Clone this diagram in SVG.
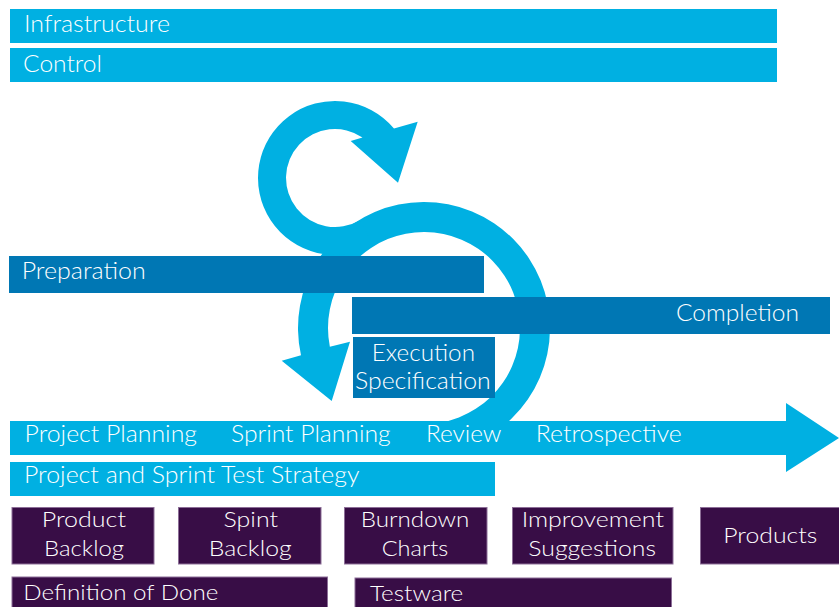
<svg xmlns="http://www.w3.org/2000/svg" width="839" height="607" viewBox="0 0 839 607">
<style>
.lb{fill:#00B0E2}
.db{fill:#0077B4}
.pp{fill:#380D46;stroke:#8C6E97;stroke-width:1}
text{font-family:Lato,"Open Sans","Noto Sans",sans-serif;font-weight:300;fill:#FFFFFF}
.t23{font-size:24px}
.t22{font-size:23px}
.t20{font-size:21px}
.t21{font-size:22px}
</style>
<rect width="839" height="607" fill="#FFFFFF"/>
<g id="connectors">
<path id="spiral-big" class="lb" d="M445.88 452.09 A126 126 0 1 0 300.99 355.27 L281.7 360.7 L331.7 401 L350 341.7 L329.86 346.81 A96 96 0 1 1 440.67 422.54 Z"/>
<path id="spiral-small" class="lb" d="M394 128.5 L417.7 121.7 L398 182.7 L350.7 141 L362.5 137.4 A49 49 0 1 0 359.5 220.44 L373.5 244.68 A77 77 0 1 1 394 128.5 Z"/>
</g>
<g id="infrastructure"><rect class="lb" x="10" y="9" width="767" height="34"/><text class="t23" x="24" y="32" textLength="146" lengthAdjust="spacingAndGlyphs">Infrastructure</text></g>
<g id="control"><rect class="lb" x="10" y="48" width="767" height="34"/><text class="t23" x="23" y="72" textLength="79" lengthAdjust="spacingAndGlyphs">Control</text></g>
<g id="preparation"><rect class="db" x="9" y="256" width="475" height="37"/><text class="t22" x="21.7" y="279.3" textLength="124" lengthAdjust="spacingAndGlyphs">Preparation</text></g>
<g id="completion"><rect class="db" x="352" y="297" width="478" height="37"/><text class="t22" x="676" y="321" textLength="123" lengthAdjust="spacingAndGlyphs">Completion</text></g>
<g id="execution"><rect class="db" x="353" y="337" width="142" height="61"/><text class="t22" x="371.7" y="361" textLength="103.3" lengthAdjust="spacingAndGlyphs">Execution</text><text class="t22" x="355" y="389" textLength="135.7" lengthAdjust="spacingAndGlyphs">Specification</text></g>
<g id="timeline"><polygon class="lb" points="10,421 786,421 786,403 839,438 786,472 786,455 10,455"/>
<text class="t22" x="24.6" y="441.7" textLength="172.4" lengthAdjust="spacingAndGlyphs">Project Planning</text>
<text class="t22" x="231" y="441.7" textLength="159.6" lengthAdjust="spacingAndGlyphs">Sprint Planning</text>
<text class="t22" x="426" y="441.7" textLength="75.5" lengthAdjust="spacingAndGlyphs">Review</text>
<text class="t22" x="535.8" y="441.7" textLength="146" lengthAdjust="spacingAndGlyphs">Retrospective</text></g>
<g id="test-strategy"><rect class="lb" x="10" y="462" width="485" height="34"/><text class="t22" x="24" y="483" textLength="335.5" lengthAdjust="spacingAndGlyphs">Project and Sprint Test Strategy</text></g>
<g id="product-backlog"><rect class="pp" x="12" y="507.5" width="142" height="56.5"/><text class="t20" x="41.7" y="526.7" textLength="84.3" lengthAdjust="spacingAndGlyphs">Product</text><text class="t20" x="44" y="555.7" textLength="80" lengthAdjust="spacingAndGlyphs">Backlog</text></g>
<g id="sprint-backlog"><rect class="pp" x="178.5" y="507.5" width="142.5" height="56.5"/><text class="t20" x="223.6" y="526.7" textLength="54.4" lengthAdjust="spacingAndGlyphs">Spint</text><text class="t20" x="208.7" y="555.7" textLength="82.9" lengthAdjust="spacingAndGlyphs">Backlog</text></g>
<g id="burndown-charts"><rect class="pp" x="344.5" y="507.5" width="142.5" height="56.5"/><text class="t20" x="360.7" y="526.7" textLength="108.6" lengthAdjust="spacingAndGlyphs">Burndown</text><text class="t20" x="381.7" y="555.7" textLength="66.6" lengthAdjust="spacingAndGlyphs">Charts</text></g>
<g id="improvement-suggestions"><rect class="pp" x="512.5" y="507.5" width="160.5" height="56.5"/><text class="t20" x="521.7" y="526.7" textLength="142.3" lengthAdjust="spacingAndGlyphs">Improvement</text><text class="t20" x="528.3" y="555.7" textLength="127.7" lengthAdjust="spacingAndGlyphs">Suggestions</text></g>
<g id="products"><rect class="pp" x="700.5" y="507.5" width="142" height="56.5"/><text class="t20" x="723.3" y="543.3" textLength="94" lengthAdjust="spacingAndGlyphs">Products</text></g>
<g id="definition-of-done"><rect class="pp" x="12" y="577" width="315.5" height="40"/><text class="t21" x="23.3" y="600" textLength="195" lengthAdjust="spacingAndGlyphs">Definition of Done</text></g>
<g id="testware"><rect class="pp" x="355" y="578" width="316.5" height="40"/><text class="t21" x="370" y="600.7" textLength="93.3" lengthAdjust="spacingAndGlyphs">Testware</text></g>
</svg>
